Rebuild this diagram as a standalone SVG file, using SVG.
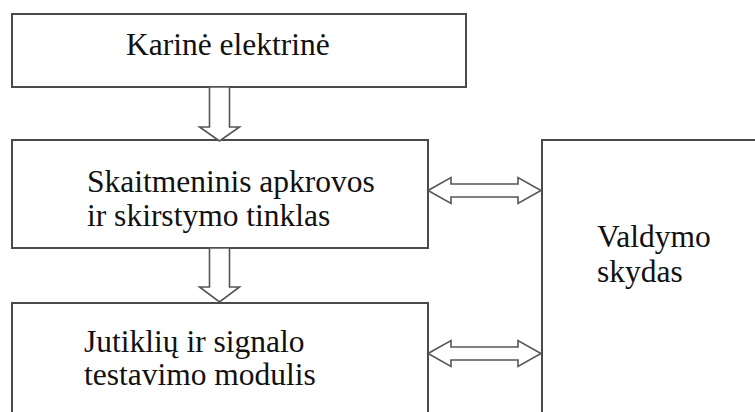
<svg xmlns="http://www.w3.org/2000/svg" width="755" height="412" viewBox="0 0 755 412">
  <style>
    .box { fill: #ffffff; stroke: #4a4a4a; stroke-width: 2; }
    .arrow { fill: #ffffff; stroke: #555555; stroke-width: 1.6; stroke-linejoin: miter; }
    .label { font-family: 'Liberation Serif', 'Times New Roman', 'DejaVu Serif', serif; font-size: 31.5px; fill: #111111; }
  </style>
  <rect x="0" y="0" width="755" height="412" fill="#ffffff"/>

  <g id="node-karine-elektrine">
    <rect class="box" x="12" y="14" width="454" height="73"/>
    <text class="label" x="126" y="55">Karinė elektrinė</text>
  </g>

  <g id="node-skaitmeninis-tinklas">
    <rect class="box" x="12" y="140" width="416" height="108"/>
    <text class="label" x="87" y="192">Skaitmeninis apkrovos</text>
    <text class="label" x="87" y="226">ir skirstymo tinklas</text>
  </g>

  <g id="node-jutikliu-modulis">
    <rect class="box" x="12" y="303" width="416" height="150"/>
    <text class="label" x="84" y="352">Jutiklių ir signalo</text>
    <text class="label" x="84" y="385">testavimo modulis</text>
  </g>

  <g id="node-valdymo-skydas">
    <rect class="box" x="542" y="140" width="260" height="320"/>
    <text class="label" x="597" y="247">Valdymo</text>
    <text class="label" x="597" y="282">skydas</text>
  </g>

  <g id="connectors">
    <!-- hollow block arrows, top to bottom -->
    <polygon class="arrow" points="209.5,87 229.5,87 229.5,127 239.5,127 219.5,141 199.5,127 209.5,127"/>
    <polygon class="arrow" points="209.5,248 229.5,248 229.5,287 239.5,287 219.5,302 199.5,287 209.5,287"/>
    <!-- two-way links to the control panel -->
    <polygon class="arrow" points="428,190.5 451,177.5 451,184 518,184 518,177.5 541,190.5 518,203.5 518,197 451,197 451,203.5"/>
    <polygon class="arrow" points="428,353.5 451,340.5 451,347 518,347 518,340.5 541,353.5 518,366.5 518,360 451,360 451,366.5"/>
  </g>
</svg>
